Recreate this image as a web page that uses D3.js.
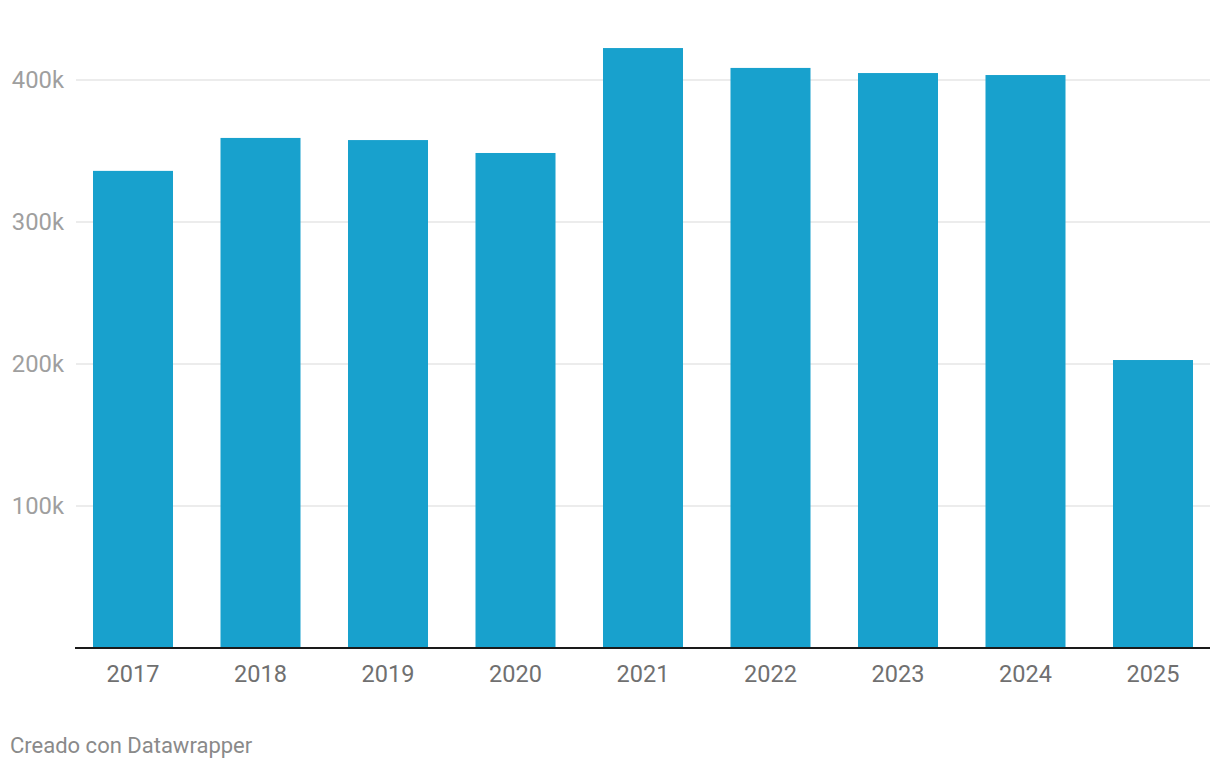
<!DOCTYPE html>
<html>
<head>
<meta charset="utf-8">
<script src="https://cdn.jsdelivr.net/npm/d3@7"></script>
<style>
  html, body { margin: 0; padding: 0; background: #fff; }
  svg { display: block; font-family: Roboto, "Noto Sans", sans-serif; }
</style>
</head>
<body>
<svg id="chart" width="1220" height="770"></svg>
<script>
const years = ["2017", "2018", "2019", "2020", "2021", "2022", "2023", "2024", "2025"];
const values = [336000, 359200, 357700, 348600, 422500, 408500, 404900, 403500, 202800];
const yTicks = [100000, 200000, 300000, 400000];
const yTickLabels = ["100k", "200k", "300k", "400k"];
const footerText = "Creado con Datawrapper";

const svg = d3.select("#chart");

const x = d3.scaleBand()
  .domain(years)
  .range([93, 1193])
  .paddingInner(0.3725)
  .paddingOuter(0);

const y = d3.scaleLinear()
  .domain([0, 400000])
  .range([648, 80]);

// gridlines
svg.append("g")
  .selectAll("line")
  .data(yTicks)
  .join("line")
  .attr("x1", 76)
  .attr("x2", 1210)
  .attr("y1", d => y(d))
  .attr("y2", d => y(d))
  .attr("stroke", "#e6e6e6")
  .attr("stroke-width", 1.3);

// y labels
svg.append("g")
  .selectAll("text")
  .data(yTicks)
  .join("text")
  .attr("x", 64)
  .attr("y", d => y(d))
  .attr("dy", "0.35em")
  .attr("text-anchor", "end")
  .attr("fill", "#9f9f9f")
  .attr("font-size", 23.8)
  .text((d, i) => yTickLabels[i]);

// bars
svg.append("g")
  .selectAll("rect")
  .data(values)
  .join("rect")
  .attr("x", (d, i) => x(years[i]))
  .attr("width", x.bandwidth())
  .attr("y", d => y(d))
  .attr("height", d => y(0) - y(d))
  .attr("fill", "#18a1cd");

// baseline axis
svg.append("line")
  .attr("x1", 75)
  .attr("x2", 1210)
  .attr("y1", y(0))
  .attr("y2", y(0))
  .attr("stroke", "#1a1a1a")
  .attr("stroke-width", 2);

// x labels
svg.append("g")
  .selectAll("text")
  .data(years)
  .join("text")
  .attr("x", d => x(d) + x.bandwidth() / 2)
  .attr("y", 682)
  .attr("text-anchor", "middle")
  .attr("fill", "#707070")
  .attr("font-size", 23.5)
  .text(d => d);

// footer
svg.append("text")
  .attr("x", 10)
  .attr("y", 753)
  .attr("fill", "#8a8a8a")
  .attr("font-size", 22)
  .text(footerText);
</script>
</body>
</html>
